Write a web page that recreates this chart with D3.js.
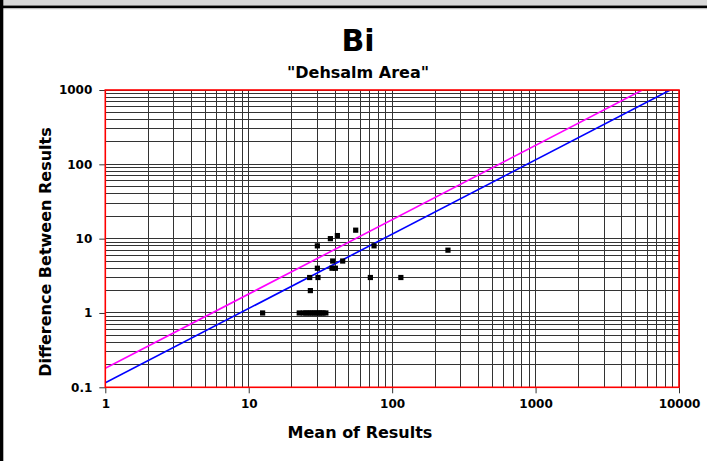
<!DOCTYPE html>
<html>
<head>
<meta charset="utf-8">
<script src="https://cdn.jsdelivr.net/npm/d3@7/dist/d3.min.js"></script>
<style>
  html, body { margin: 0; padding: 0; background: #fff; }
  svg text { font-family: "DejaVu Sans", "Noto Sans", sans-serif; font-weight: bold; fill: #000; }
</style>
</head>
<body>
<svg id="chart" width="707" height="461"></svg>
<script>
// Duplicate-sample pairs: mean of the two results vs. their absolute difference
const meanValues = [12.5, 22.5, 24, 25, 26, 27, 28, 29, 30, 31, 32, 33, 34.5,
                    26.9, 26.6, 30.4, 30.1, 30.1, 37.1, 41.5, 38.5, 38.1, 40.2,
                    45.2, 55.7, 74.8, 70.5, 115, 245];
const diffValues = [1, 1, 1, 1, 1, 1, 1, 1, 1, 1, 1, 1, 1,
                    2, 3, 3, 4, 8, 10, 11, 5, 4, 4,
                    5, 13, 8, 3, 3, 7];

// Precision control lines: difference = factor * mean
const lineFactors = [0.18, 0.115];
const lineColors = ["#ff00ff", "#0000ff"];

const xTicks = [1, 10, 100, 1000, 10000];
const yTicks = [0.1, 1, 10, 100, 1000];
const xTickLabels = ["1", "10", "100", "1000", "10000"];
const yTickLabels = ["0.1", "1", "10", "100", "1000"];

const titleText = "Bi";
const subtitleText = "\"Dehsalm Area\"";
const xTitle = "Mean of Results";
const yTitle = "Difference Between Results";

const svg = d3.select("#chart");
const W = 707, H = 461;
const plot = { left: 105.3, right: 679, top: 90, bottom: 387.3 };

const x = d3.scaleLog().domain([1, 10000]).range([plot.left, plot.right]);
const y = d3.scaleLog().domain([0.1, 1000]).range([plot.bottom, plot.top]);

// page frame
svg.append("rect").attr("x", 0).attr("y", 0).attr("width", W).attr("height", 5).attr("fill", "#d8d8d8");
svg.append("rect").attr("x", 0).attr("y", 5.5).attr("width", W).attr("height", 2.5).attr("fill", "#000");
svg.append("rect").attr("x", 0).attr("y", 8).attr("width", W).attr("height", 1.2).attr("fill", "#bbb");
svg.append("rect").attr("x", 0).attr("y", 0).attr("width", 3.3).attr("height", H).attr("fill", "#000");

// minor + major grid values (1..9 per decade)
const gridX = [];
for (let d = 1; d < 10000; d *= 10) for (let m = 1; m <= 9; m++) gridX.push(d * m);
gridX.push(10000);
const gridY = [];
for (let d = 0.1; d < 999; d *= 10) for (let m = 1; m <= 9; m++) gridY.push(+(d * m).toPrecision(3));
gridY.push(1000);

const grid = svg.append("g").attr("stroke", "#333").attr("stroke-width", 1).attr("shape-rendering", "crispEdges");
grid.selectAll("line.v").data(gridX).join("line").attr("class", "v")
  .attr("x1", d => x(d)).attr("x2", d => x(d)).attr("y1", plot.top).attr("y2", plot.bottom);
grid.selectAll("line.h").data(gridY).join("line").attr("class", "h")
  .attr("x1", plot.left).attr("x2", plot.right).attr("y1", d => y(d)).attr("y2", d => y(d));

// axes with decade ticks
const xAxis = d3.axisBottom(x).tickValues(xTicks).tickFormat((d, i) => xTickLabels[i]).tickSize(6).tickPadding(6);
const yAxis = d3.axisLeft(y).tickValues(yTicks).tickFormat((d, i) => yTickLabels[i]).tickSize(6).tickPadding(7);

const gx = svg.append("g").attr("transform", `translate(0,${plot.bottom})`).call(xAxis);
const gy = svg.append("g").attr("transform", `translate(${plot.left},0)`).call(yAxis);
[gx, gy].forEach(g => {
  g.select(".domain").remove();
  g.selectAll(".tick line").attr("stroke", "#333");
  g.selectAll(".tick text").style("font-size", "12px").style("font-family", "'DejaVu Sans', sans-serif").style("font-weight", "bold");
});

// control lines clipped to the plot area
svg.append("clipPath").attr("id", "plotClip").append("rect")
  .attr("x", plot.left).attr("y", plot.top).attr("width", plot.right - plot.left).attr("height", plot.bottom - plot.top);
const lineGen = d3.line().x(d => x(d[0])).y(d => y(d[1]));
lineFactors.forEach((f, i) => {
  const pts = [[1, f * 1], [10000, f * 10000]];
  svg.append("path").attr("d", lineGen(pts)).attr("clip-path", "url(#plotClip)")
    .attr("fill", "none").attr("stroke", lineColors[i]).attr("stroke-width", 1.6);
});

// plot border
svg.append("rect").attr("x", plot.left).attr("y", plot.top)
  .attr("width", plot.right - plot.left).attr("height", plot.bottom - plot.top)
  .attr("fill", "none").attr("stroke", "#ff0000").attr("stroke-width", 1.6);

// data markers
const pts = meanValues.map((m, i) => [m, diffValues[i]]);
svg.append("g").selectAll("rect").data(pts).join("rect")
  .attr("x", d => x(d[0]) - 2.6).attr("y", d => y(d[1]) - 2.6)
  .attr("width", 5.2).attr("height", 5.2).attr("fill", "#000");

// titles
svg.append("text").attr("x", 358).attr("y", 51).attr("text-anchor", "middle")
  .style("font-size", "30px").text(titleText);
svg.append("text").attr("x", 358).attr("y", 78).attr("text-anchor", "middle")
  .style("font-size", "16px").text(subtitleText);
svg.append("text").attr("x", 360).attr("y", 438).attr("text-anchor", "middle")
  .style("font-size", "16px").text(xTitle);
svg.append("text").attr("transform", "translate(51,252) rotate(-90)").attr("text-anchor", "middle")
  .style("font-size", "16px").text(yTitle);
</script>
</body>
</html>
